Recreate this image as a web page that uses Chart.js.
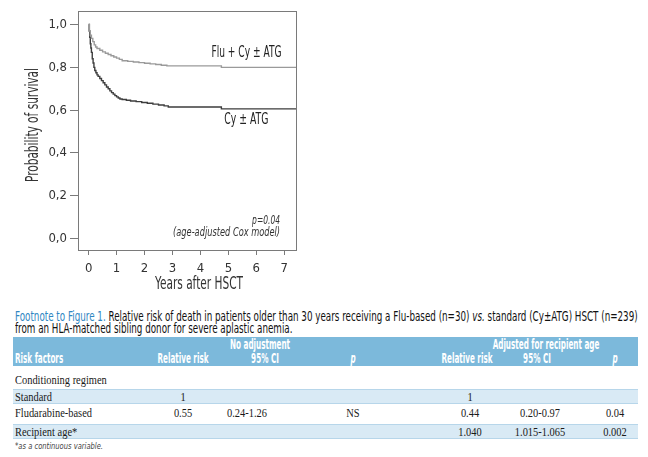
<!DOCTYPE html>
<html>
<head>
<meta charset="utf-8">
<title>Survival after HSCT - Flu vs Cy</title>
<script src="https://cdn.jsdelivr.net/npm/chart.js@4.4.1/dist/chart.umd.min.js"></script>
<style>
    body {
        margin: 0;
        width: 648px;
        height: 457px;
        background: #fff;
        position: relative;
        overflow: hidden;
    }
    #chart-box {
        position: absolute;
        left: 0;
        top: 0;
        width: 330px;
        height: 295px;
    }
    .t {
        position: absolute;
        white-space: nowrap;
    }
    .band {
        position: absolute;
        left: 13px;
        width: 625px;
    }
</style>
</head>
<body>

<div id="chart-box">
    <canvas id="survCanvas" width="330" height="295"></canvas>
</div>
<div id="table-box"></div>

<script>
// ---- chart data ----
var xTicks = [0, 1, 2, 3, 4, 5, 6, 7];
var yTicks = [0, 0.2, 0.4, 0.6, 0.8, 1.0];

var fluYears = [0, 0.03, 0.06, 0.1, 0.15, 0.2, 0.25, 0.3, 0.4, 0.5, 0.6, 0.7, 0.8, 0.9, 1.0, 1.1, 1.2,
                1.4, 1.6, 1.8, 2.0, 2.2, 2.4, 2.6, 2.8, 4.75, 7.42];
var fluSurv  = [1.0, 0.97, 0.95, 0.935, 0.92, 0.905, 0.895, 0.888, 0.88, 0.872, 0.866, 0.86, 0.854, 0.848, 0.843, 0.837, 0.831,
                0.828, 0.825, 0.822, 0.819, 0.816, 0.813, 0.81, 0.807, 0.80, 0.80];

var cyYears = [0, 0.02, 0.04, 0.06, 0.08, 0.1, 0.13, 0.16, 0.19, 0.22, 0.26, 0.3, 0.34, 0.4, 0.46, 0.52, 0.58, 0.64,
               0.7, 0.76, 0.82, 0.88, 0.94, 1.0, 1.06, 1.12, 1.2, 1.35, 1.5, 1.7, 1.9, 2.1, 2.3, 2.5, 2.7, 2.85, 4.75, 7.42];
var cySurv  = [1.0, 0.97, 0.94, 0.91, 0.89, 0.87, 0.84, 0.82, 0.80, 0.785, 0.775, 0.765, 0.758, 0.748, 0.738, 0.728, 0.718, 0.708,
               0.70, 0.69, 0.682, 0.675, 0.668, 0.662, 0.657, 0.652, 0.65, 0.646, 0.643, 0.64, 0.636, 0.632, 0.628, 0.624, 0.62, 0.615, 0.606, 0.606];

var seriesNames = ['Flu + Cy \u00b1 ATG', 'Cy \u00b1 ATG'];

// ---- table data ----
var riskFactors = ['Conditioning regimen', 'Standard', 'Fludarabine-based', 'Recipient age*'];
var rrNoAdj = ['', '1', '0.55', ''];
var ciNoAdj = ['', '', '0.24-1.26', ''];
var pNoAdj  = ['', '', 'NS', ''];
var rrAdj   = ['', '1', '0.44', '1.040'];
var ciAdj   = ['', '', '0.20-0.97', '1.015-1.065'];
var pAdj    = ['', '', '0.04', '0.002'];

var NARROW = '"Liberation Sans Narrow", "DejaVu Sans Condensed", "Liberation Sans", sans-serif';
var SERIF = '"Liberation Serif", "DejaVu Serif", serif';

function toPoints(xs, ys) {
    var pts = [];
    for (var i = 0; i < xs.length; i++) {
        pts.push({x: xs[i], y: ys[i]});
    }
    return pts;
}

// draw text squeezed horizontally to a given width (the figure uses a condensed face)
function narrowText(ctx, text, x, y, width, align, angle) {
    var s = width / ctx.measureText(text).width;
    ctx.save();
    ctx.translate(x, y);
    if (angle) ctx.rotate(angle);
    ctx.scale(s, 1);
    ctx.textAlign = align;
    ctx.fillText(text, 0, 0);
    ctx.restore();
}

// box around plot area + curve labels + p value text + axis titles
var boxAndText = {
    id: 'boxAndText',
    afterDraw: function (chart) {
        var ctx = chart.ctx, a = chart.chartArea;
        var xs = chart.scales.x, ys = chart.scales.y;
        ctx.save();
        ctx.strokeStyle = '#7a7a7a';
        ctx.lineWidth = 1;
        ctx.strokeRect(Math.round(a.left) + 0.5, Math.round(a.top) + 0.5,
            Math.round(a.right - a.left), Math.round(a.bottom - a.top));

        ctx.fillStyle = '#222';
        ctx.textBaseline = 'middle';
        ctx.font = '15px ' + NARROW;
        narrowText(ctx, seriesNames[0], xs.getPixelForValue(6.9), ys.getPixelForValue(0.866), 70, 'right');
        narrowText(ctx, seriesNames[1], xs.getPixelForValue(6.43), ys.getPixelForValue(0.555), 44, 'right');

        ctx.font = 'italic 13px ' + NARROW;
        ctx.fillStyle = '#333';
        narrowText(ctx, 'p=0.04', xs.getPixelForValue(6.85), ys.getPixelForValue(0.084), 28, 'right');
        narrowText(ctx, '(age-adjusted Cox model)', xs.getPixelForValue(6.85), ys.getPixelForValue(0.028), 107, 'right');

        ctx.font = '17px ' + NARROW;
        narrowText(ctx, 'Years after HSCT', xs.getPixelForValue(3.95), 285, 88, 'center');
        narrowText(ctx, 'Probability of survival', 34, 125, 114, 'center', -Math.PI / 2);
        ctx.restore();
    }
};

new Chart(document.getElementById('survCanvas'), {
    type: 'line',
    data: {
        datasets: [
            {
                label: seriesNames[0],
                data: toPoints(fluYears, fluSurv),
                borderColor: '#9a9a9a',
                borderWidth: 1.4,
                pointRadius: 0,
                stepped: true,
                fill: false
            },
            {
                label: seriesNames[1],
                data: toPoints(cyYears, cySurv),
                borderColor: '#3d3d3d',
                borderWidth: 1.4,
                pointRadius: 0,
                stepped: true,
                fill: false
            }
        ]
    },
    options: {
        responsive: false,
        animation: false,
        layout: {padding: {left: 0, top: 5, right: 34, bottom: 0}},
        plugins: {legend: {display: false}, tooltip: {enabled: false}},
        scales: {
            x: {
                type: 'linear',
                min: -0.38,
                max: 7.42,
                afterBuildTicks: function (s) {
                    s.ticks = xTicks.map(function (v) { return {value: v}; });
                },
                afterFit: function (s) { s.height = 45; },
                grid: {drawOnChartArea: false, drawTicks: true, tickLength: 5, color: '#7a7a7a'},
                border: {display: false},
                ticks: {
                    padding: 6,
                    color: '#333',
                    font: {family: NARROW, size: 13},
                    maxRotation: 0
                }
            },
            y: {
                type: 'linear',
                min: -0.053,
                max: 1.064,
                afterBuildTicks: function (s) {
                    s.ticks = yTicks.map(function (v) { return {value: v}; });
                },
                afterFit: function (s) { s.width = 78; },
                grid: {drawOnChartArea: false, drawTicks: true, tickLength: 8, color: '#7a7a7a'},
                border: {display: false},
                ticks: {
                    padding: 3,
                    color: '#333',
                    font: {family: NARROW, size: 13},
                    callback: function (v) { return v.toFixed(1).replace('.', ','); }
                }
            }
        }
    },
    plugins: [boxAndText]
});

// ---- table below the chart ----
var box = document.getElementById('table-box');
var measure = document.createElement('canvas').getContext('2d');

function scaleFor(text, font, target) {
    measure.font = font;
    return target / measure.measureText(text).width;
}

function put(html, x, y, align, font, scale, color) {
    var d = document.createElement('div');
    d.className = 't';
    d.innerHTML = html;
    d.style.font = font;
    d.style.lineHeight = '16px';
    d.style.color = color;
    d.style.top = (y - 8) + 'px';
    if (align === 'center') {
        d.style.left = (x - 100) + 'px';
        d.style.width = '200px';
        d.style.textAlign = 'center';
        d.style.transformOrigin = 'center';
    } else {
        d.style.left = x + 'px';
        d.style.transformOrigin = 'left';
    }
    d.style.transform = 'scaleX(' + scale + ')';
    box.appendChild(d);
    return d;
}

function band(top, height, color, borders) {
    var b = document.createElement('div');
    b.className = 'band';
    b.style.top = top + 'px';
    b.style.height = height + 'px';
    b.style.background = color;
    if (borders) {
        b.style.borderTop = '1px solid #b7d6ea';
        b.style.borderBottom = '1px solid #b7d6ea';
    }
    box.appendChild(b);
}

// caption
var capFont = '14px ' + NARROW;
var line1 = '<span style="color:#2f86c2">Footnote to Figure 1.</span> Relative risk of death in patients older than 30 years ' +
    'receiving a Flu-based (n=30) <i>vs.</i> standard (Cy\u00b1ATG) HSCT (n=239)';
var c1 = put(line1, 15, 316, 'left', capFont, 1, '#111');
var capScale = 623 / c1.offsetWidth;
c1.style.transform = 'scaleX(' + capScale + ')';
put('from an HLA-matched sibling donor for severe aplastic anemia.', 15, 327.5, 'left', capFont, capScale, '#111');

// header band
band(337, 29, '#7cb9db', false);
var hdrFont = 'bold 14px ' + NARROW;
var hs = scaleFor('Relative risk', hdrFont, 51);
put('No adjustment', 260, 344, 'center', hdrFont, hs, '#fff');
put('Adjusted for recipient age', 546, 344, 'center', hdrFont, hs, '#fff');
put('Risk factors', 15, 358, 'left', hdrFont, hs, '#fff');
put('Relative risk', 183, 358, 'center', hdrFont, hs, '#fff');
put('95% CI', 265, 358, 'center', hdrFont, hs, '#fff');
put('<i>p</i>', 353, 358, 'center', hdrFont, hs, '#fff');
put('Relative risk', 467, 358, 'center', hdrFont, hs, '#fff');
put('95% CI', 537, 358, 'center', hdrFont, hs, '#fff');
put('<i>p</i>', 615, 358, 'center', hdrFont, hs, '#fff');

// body rows
var rowY = [380, 396.5, 413, 431.5];
var striped = [false, true, false, true];
var bodyFont = '13.5px ' + SERIF;
var bs = scaleFor('Fludarabine-based', bodyFont, 77);
for (var r = 0; r < riskFactors.length; r++) {
    if (striped[r]) band(rowY[r] - 7.5, 13, '#d9eaf5', true);
}
var cols = [[rrNoAdj, 183], [ciNoAdj, 247], [pNoAdj, 353], [rrAdj, 470], [ciAdj, 540], [pAdj, 615]];
for (var r = 0; r < riskFactors.length; r++) {
    put(riskFactors[r], 15, rowY[r], 'left', bodyFont, bs, '#1a1a1a');
    for (var c = 0; c < cols.length; c++) {
        if (cols[c][0][r]) put(cols[c][0][r], cols[c][1], rowY[r], 'center', bodyFont, bs, '#1a1a1a');
    }
}

// footnote
var fnFont = 'italic 9px ' + NARROW;
put('*as a continuous variable.', 15, 446, 'left', fnFont,
    scaleFor('*as a continuous variable.', fnFont, 88), '#444');
</script>

</body>
</html>
